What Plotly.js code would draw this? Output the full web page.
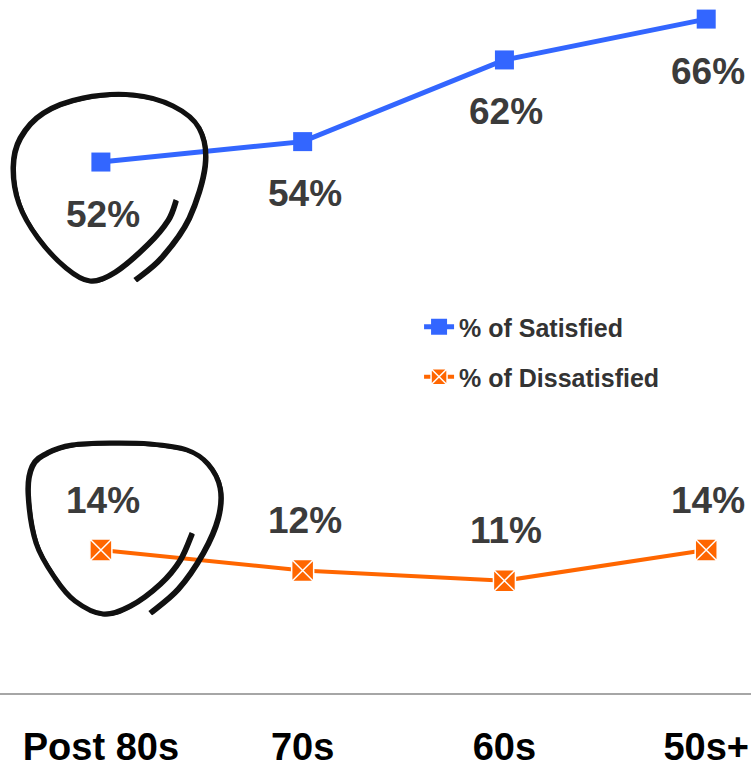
<!DOCTYPE html>
<html>
<head>
<meta charset="utf-8">
<script src="https://cdn.plot.ly/plotly-3.0.1.min.js"></script>
<style>html,body{margin:0;padding:0;background:#fff;}#chart{width:751px;height:768px;}</style>
</head>
<body>
<div id="chart"></div>
<script>
var categories = ["Post 80s", "70s", "60s", "50s+"];
var satisfied = [52, 54, 62, 66];
var dissatisfied = [14, 12, 11, 14];
var seriesNames = ["% of Satisfied", "% of Dissatisfied"];

var W = 751, H = 768, MB = 75, PH = H - MB;
var FONT = "Liberation Sans, Arial, Helvetica, sans-serif";

// hand-drawn scribbles (pixel coordinates of the decoration)
var scribble1 = [[176,200],[168,220],[148,244],[115,272],[90,281],[66,268],[38,238],[19,204],[13,167],[20,138],[43,113],[83,98],[133,95],[173,106],[199,128],[205,165],[189,218],[161,258],[135,280]];
var scribble2 = [[192,533],[180,560],[160,584],[130,606],[103,614],[75,601],[55,578],[36,543],[28,494],[32,466],[47,453],[72,445],[110,443],[150,444],[187,450],[208,464],[220,488],[218,518],[203,553],[178,589],[150,613]];

function toPaper(p){ return [(p[0]/W).toFixed(5), ((PH - p[1])/PH).toFixed(5)]; }
function smoothPath(pts, dx, dy){
  dx = dx || 0; dy = dy || 0;
  var q = pts.map(function(p){ return [p[0]+dx, p[1]+dy]; });
  var d = "M" + toPaper(q[0]).join(",");
  for (var i = 0; i < q.length - 1; i++) {
    var p0 = q[i-1] || q[i], p1 = q[i], p2 = q[i+1], p3 = q[i+2] || p2;
    var c1 = [p1[0] + (p2[0]-p0[0])/6, p1[1] + (p2[1]-p0[1])/6];
    var c2 = [p2[0] - (p3[0]-p1[0])/6, p2[1] - (p3[1]-p1[1])/6];
    d += " C" + toPaper(c1).join(",") + " " + toPaper(c2).join(",") + " " + toPaper(p2).join(",");
  }
  return d;
}

var traces = [
  {
    x: categories, y: satisfied, name: seriesNames[0], type: "scatter", mode: "lines+markers",
    line: {color: "#3366ff", width: 5},
    marker: {symbol: "square", size: 19, color: "#3366ff"},
    legend: "legend", hoverinfo: "none"
  },
  {
    x: categories, y: dissatisfied, name: seriesNames[1], type: "scatter", mode: "lines+markers",
    line: {color: "#ff6600", width: 4},
    marker: {symbol: "square-x", size: 22, color: "#ff6600", line: {color: "#ffffff", width: 1.5}},
    legend: "legend2", hoverinfo: "none"
  }
];

var annotations = [];
categories.forEach(function(c, i){
  annotations.push({x: c, y: satisfied[i], text: satisfied[i] + "%", showarrow: false,
    xshift: 2, yshift: -52, font: {family: FONT, size: 37, color: "#3b3b3b", weight: 700}});
  annotations.push({x: c, y: dissatisfied[i], text: dissatisfied[i] + "%", showarrow: false,
    xshift: 2, yshift: 50, font: {family: FONT, size: 37, color: "#3b3b3b", weight: 700}});
});

var shapes = [];
[scribble1, scribble2].forEach(function(pts){
  shapes.push({type: "path", xref: "paper", yref: "paper", path: smoothPath(pts, 0, 0),
    line: {color: "#111111", width: 5}, layer: "above"});
  shapes.push({type: "path", xref: "paper", yref: "paper", path: smoothPath(pts, 1.5, 1),
    line: {color: "#111111", width: 3}, layer: "above"});
});

var legendFont = {family: FONT, size: 25, color: "#333333", weight: 700};
var layout = {
  width: W, height: H,
  margin: {l: 0, r: 0, t: 0, b: MB, pad: 0},
  paper_bgcolor: "#ffffff", plot_bgcolor: "#ffffff",
  font: {family: FONT},
  xaxis: {type: "category", range: [-0.5, 3.222], showgrid: false, zeroline: false,
    showline: true, linecolor: "#a6a6a6", linewidth: 2, ticks: "",
    ticklabelstandoff: 19,
    tickfont: {family: FONT, size: 38, color: "#000000", weight: 700}, fixedrange: true},
  yaxis: {range: [0, 67.87], visible: false, showgrid: false, zeroline: false, fixedrange: true},
  showlegend: true,
  legend: {x: 0.558, y: (PH-327)/PH, xanchor: "left", yanchor: "middle", font: legendFont, bgcolor: "rgba(0,0,0,0)"},
  legend2: {x: 0.558, y: (PH-377)/PH, xanchor: "left", yanchor: "middle", font: legendFont, bgcolor: "rgba(0,0,0,0)"},
  annotations: annotations,
  shapes: shapes
};

Plotly.newPlot("chart", traces, layout, {displayModeBar: false, staticPlot: true});
</script>
</body>
</html>
